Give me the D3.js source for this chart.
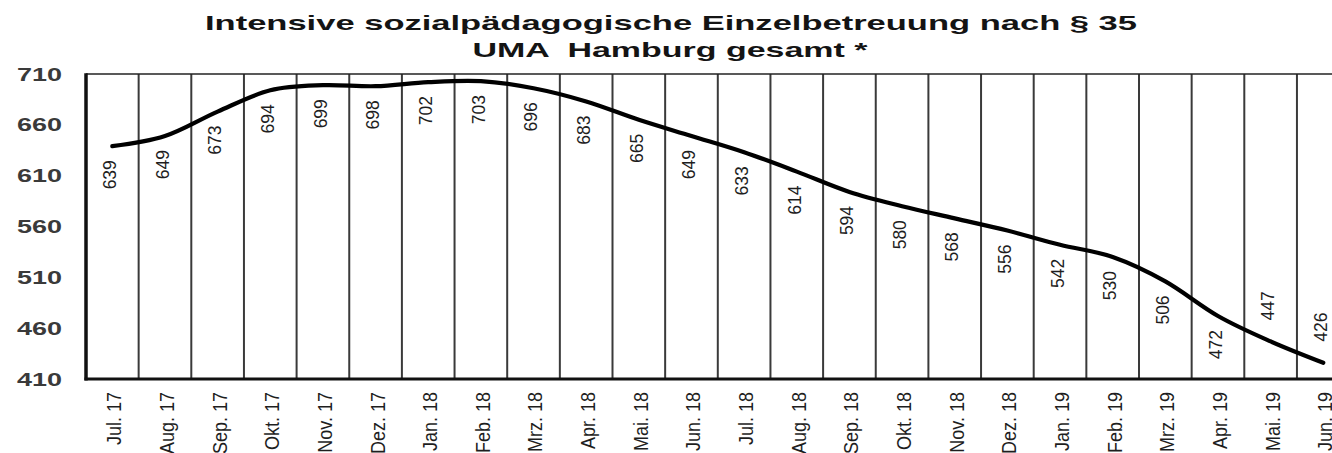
<!DOCTYPE html>
<html>
<head>
<meta charset="utf-8">
<script src="https://cdn.jsdelivr.net/npm/d3@7"></script>
<style>
  html, body { margin: 0; padding: 0; background: #fff; }
  svg { display: block; font-family: Arial, "Liberation Sans", sans-serif; }
</style>
</head>
<body>
<svg id="chart" width="1332" height="453"></svg>
<script>
const months = ["Jul. 17", "Aug. 17", "Sep. 17", "Okt. 17", "Nov. 17", "Dez. 17",
  "Jan. 18", "Feb. 18", "Mrz. 18", "Apr. 18", "Mai. 18", "Jun. 18",
  "Jul. 18", "Aug. 18", "Sep. 18", "Okt. 18", "Nov. 18", "Dez. 18",
  "Jan. 19", "Feb. 19", "Mrz. 19", "Apr. 19", "Mai. 19", "Jun. 19"];
const values = [639, 649, 673, 694, 699, 698, 702, 703, 696, 683, 665, 649,
  633, 614, 594, 580, 568, 556, 542, 530, 506, 472, 447, 426];
// where each value label sits relative to its point
const labelSide = ["below", "below", "below", "below", "below", "below",
  "below", "below", "below", "below", "below", "below",
  "below", "below", "below", "below", "below", "below",
  "below", "below", "below", "below", "above", "above"];
const yTicks = [410, 460, 510, 560, 610, 660, 710];
const titleLines = ["Intensive sozialpädagogische Einzelbetreuung nach § 35", "UMA  Hamburg gesamt *"];

const svg = d3.select("#chart");

const plotLeft = 86, plotTop = 74, plotBottom = 379, colW = 52.65;

const x = d3.scaleBand()
  .domain(months)
  .range([plotLeft, plotLeft + months.length * colW])
  .padding(0);

const y = d3.scaleLinear()
  .domain([410, 710])
  .range([plotBottom, plotTop]);

// title, stretched wide like the original
const titleSpec = [{ cx: 671, base: 30, w: 932 }, { cx: 670, base: 57, w: 395 }];
svg.append("g")
  .selectAll("text")
  .data(titleLines)
  .join("text")
  .attr("x", (d, i) => titleSpec[i].cx)
  .attr("y", (d, i) => titleSpec[i].base)
  .attr("text-anchor", "middle")
  .attr("font-size", 21)
  .attr("font-weight", "bold")
  .attr("fill", "#141414")
  .attr("textLength", (d, i) => titleSpec[i].w)
  .attr("lengthAdjust", "spacingAndGlyphs")
  .style("white-space", "pre")
  .text((d) => d);

// vertical column separators
const seps = months.map((m) => x(m)).concat([x.range()[1]]);
svg.append("g")
  .selectAll("line")
  .data(seps.slice(1))
  .join("line")
  .attr("x1", (d) => d)
  .attr("x2", (d) => d)
  .attr("y1", plotTop)
  .attr("y2", plotBottom)
  .attr("stroke", "#3a3a3a")
  .attr("stroke-width", 2);

// top border
svg.append("line")
  .attr("x1", plotLeft).attr("x2", x.range()[1])
  .attr("y1", plotTop).attr("y2", plotTop)
  .attr("stroke", "#222")
  .attr("stroke-width", 1.6);

// left border (y axis line)
svg.append("line")
  .attr("x1", plotLeft).attr("x2", plotLeft)
  .attr("y1", plotTop - 0.8).attr("y2", plotBottom + 1.5)
  .attr("stroke", "#111")
  .attr("stroke-width", 3.5);

// bottom axis line
svg.append("line")
  .attr("x1", plotLeft - 1.5).attr("x2", x.range()[1])
  .attr("y1", plotBottom).attr("y2", plotBottom)
  .attr("stroke", "#111")
  .attr("stroke-width", 3);

// y tick labels (wide, like the original)
svg.append("g")
  .selectAll("text")
  .data(yTicks)
  .join("text")
  .attr("transform", (d) => `translate(62,${y(d)}) scale(1.42,1)`)
  .attr("text-anchor", "end")
  .attr("dy", "0.35em")
  .attr("font-size", 19)
  .attr("font-weight", "bold")
  .attr("fill", "#3a3a3a")
  .text((d) => d);

// x labels, rotated
svg.append("g")
  .selectAll("text")
  .data(months)
  .join("text")
  .attr("transform", (d) => `translate(${x(d) + x.bandwidth() / 2 + 2},${plotBottom + 13}) scale(1.1,1) rotate(-90)`)
  .attr("text-anchor", "end")
  .attr("dy", "0.35em")
  .attr("font-size", 18)
  .attr("fill", "#1e1e1e")
  .text((d) => d);

// smoothed line
const line = d3.line()
  .x((d, i) => x(months[i]) + x.bandwidth() / 2)
  .y((d) => y(d))
  .curve(d3.curveCardinal.tension(0));

svg.append("path")
  .datum(values)
  .attr("d", line)
  .attr("fill", "none")
  .attr("stroke", "#000")
  .attr("stroke-width", 4.2)
  .attr("stroke-linecap", "round");

// value labels, rotated
svg.append("g")
  .selectAll("text")
  .data(values)
  .join("text")
  .attr("transform", (d, i) => {
    const cx = x(months[i]) + x.bandwidth() / 2 - 3;
    const cy = labelSide[i] === "below" ? y(d) + 14 : y(d) - 21;
    return `translate(${cx},${cy}) scale(1.1,1) rotate(-90)`;
  })
  .attr("text-anchor", (d, i) => (labelSide[i] === "below" ? "end" : "start"))
  .attr("dy", "0.35em")
  .attr("font-size", 17.5)
  .attr("fill", "#1e1e1e")
  .text((d) => d);
</script>
</body>
</html>
